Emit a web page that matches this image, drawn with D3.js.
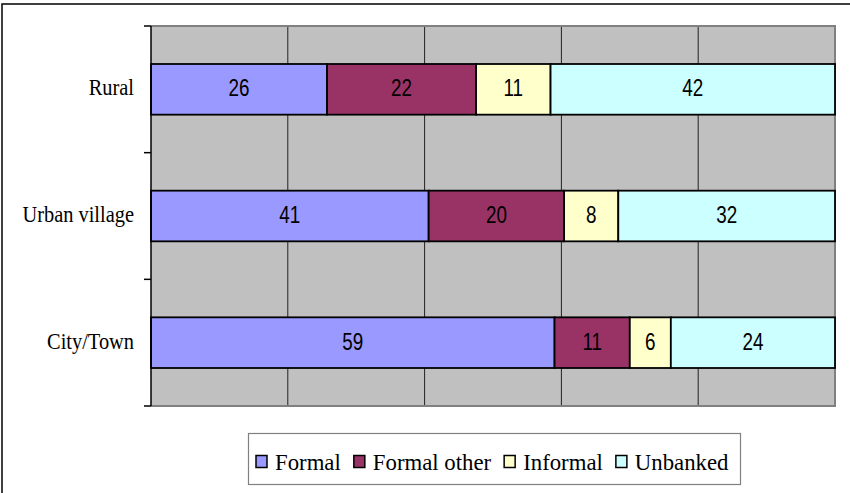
<!DOCTYPE html>
<html>
<head>
<meta charset="utf-8">
<script src="https://cdn.jsdelivr.net/npm/d3@7"></script>
<style>
  body { margin: 0; background: #fff; }
  svg { display: block; }
</style>
</head>
<body>
<svg id="chart" width="850" height="493"></svg>
<script>
// data
var categories = ["Rural", "Urban village", "City/Town"];
var seriesNames = ["Formal", "Formal other", "Informal", "Unbanked"];
var formal = [26, 41, 59];
var formalOther = [22, 20, 11];
var informal = [11, 8, 6];
var unbanked = [42, 32, 24];
var gridTicks = [0.2, 0.4, 0.6, 0.8];
var colors = ["#9999FF", "#993366", "#FFFFCC", "#CCFFFF"];

var serifFont = "Liberation Serif, Times New Roman, Times, serif",
    sansFont = "Liberation Sans, Arial, Helvetica, sans-serif";

var svg = d3.select("#chart"),
    margin = {top: 26, right: 15, bottom: 87, left: 151},
    width = +svg.attr("width") - margin.left - margin.right,
    height = +svg.attr("height") - margin.top - margin.bottom;

// outer frame (only left/top edges show in the picture)
svg.append("rect")
    .attr("x", 2).attr("y", 4)
    .attr("width", 900).attr("height", 600)
    .attr("fill", "none")
    .attr("stroke", "#000")
    .attr("stroke-width", 1.5);

var g = svg.append("g").attr("transform", "translate(" + margin.left + "," + margin.top + ")");

var rows = categories.map(function(c, i) {
  return {cat: c, "Formal": formal[i], "Formal other": formalOther[i], "Informal": informal[i], "Unbanked": unbanked[i]};
});

var x = d3.scaleLinear().domain([0, 1]).range([0, width]);
var y = d3.scaleBand()
    .domain(categories)
    .range([0, height])
    .paddingInner(0.6)
    .paddingOuter(0.3);
var z = d3.scaleOrdinal().domain(seriesNames).range(colors);

var stack = d3.stack().keys(seriesNames).offset(d3.stackOffsetExpand);
var stacked = stack(rows);

// plot background
g.append("rect")
    .attr("width", width)
    .attr("height", height)
    .attr("fill", "#C0C0C0");

// vertical gridlines
g.selectAll(".grid")
  .data(gridTicks)
  .enter().append("line")
    .attr("class", "grid")
    .attr("x1", function(d) { return x(d); })
    .attr("x2", function(d) { return x(d); })
    .attr("y1", 0)
    .attr("y2", height)
    .attr("stroke", "#222")
    .attr("stroke-width", 1);

// gray plot border on top/right/bottom
g.append("path")
    .attr("d", "M0,0H" + width + "V" + height + "H0")
    .attr("fill", "none")
    .attr("stroke", "#808080")
    .attr("stroke-width", 2);

// bars
var serie = g.selectAll(".serie")
  .data(stacked)
  .enter().append("g")
    .attr("class", "serie")
    .attr("fill", function(d) { return z(d.key); });

serie.selectAll("rect")
  .data(function(d) { return d; })
  .enter().append("rect")
    .attr("x", function(d) { return x(d[0]); })
    .attr("y", function(d) { return y(d.data.cat); })
    .attr("width", function(d) { return x(d[1]) - x(d[0]); })
    .attr("height", y.bandwidth())
    .attr("stroke", "#000")
    .attr("stroke-width", 1.8);

// value labels
serie.selectAll(".val")
  .data(function(d) { return d.map(function(p) { return {p: p, key: d.key}; }); })
  .enter().append("text")
    .attr("class", "val")
    .attr("transform", function(d) {
      var cx = (x(d.p[0]) + x(d.p[1])) / 2,
          cy = y(d.p.data.cat) + y.bandwidth() / 2 + 7;
      return "translate(" + cx + "," + cy + ") scale(0.82,1)";
    })
    .attr("text-anchor", "middle")
    .attr("fill", "#000")
    .attr("font-family", sansFont)
    .attr("font-size", 23)
    .text(function(d) { return d.p.data[d.key]; });

// y axis
var yAxis = g.append("g")
    .attr("class", "axis axis--y");
yAxis.append("line")
    .attr("x1", 0).attr("x2", 0)
    .attr("y1", 0).attr("y2", height)
    .attr("stroke", "#000")
    .attr("stroke-width", 1.5);
var bounds = [0].concat(categories.map(function(c) { return y(c) + y.bandwidth() + y.step() * y.paddingInner() / 2; }));
bounds[bounds.length - 1] = height;
yAxis.selectAll(".tick")
  .data(bounds)
  .enter().append("line")
    .attr("class", "tick")
    .attr("x1", -7).attr("x2", 0)
    .attr("y1", function(d) { return d; })
    .attr("y2", function(d) { return d; })
    .attr("stroke", "#000")
    .attr("stroke-width", 1.5);
yAxis.selectAll(".cat")
  .data(categories)
  .enter().append("text")
    .attr("class", "cat")
    .attr("transform", function(d) { return "translate(-17," + (y(d) + y.bandwidth() / 2 + 6) + ") scale(0.85,1)"; })
    .attr("text-anchor", "end")
    .attr("fill", "#000")
    .attr("font-family", serifFont)
    .attr("font-size", 24)
    .text(function(d) { return d; });

// legend
var legend = svg.append("g").attr("class", "legend");
legend.append("rect")
    .attr("x", 248.5).attr("y", 433.5)
    .attr("width", 492).attr("height", 51)
    .attr("fill", "#fff")
    .attr("stroke", "#808080")
    .attr("stroke-width", 1.2);

var lx = 256;
seriesNames.forEach(function(name) {
  var item = legend.append("g");
  item.append("rect")
      .attr("x", lx).attr("y", 455.5)
      .attr("width", 11).attr("height", 12)
      .attr("fill", z(name))
      .attr("stroke", "#000")
      .attr("stroke-width", 1.5);
  var t = item.append("text")
      .attr("transform", "translate(" + (lx + 19) + ",470) scale(0.95,1)")
      .attr("fill", "#000")
      .attr("font-family", serifFont)
      .attr("font-size", 24)
      .text(name);
  lx += 19 + t.node().getComputedTextLength() * 0.95 + 13;
});
</script>
</body>
</html>
